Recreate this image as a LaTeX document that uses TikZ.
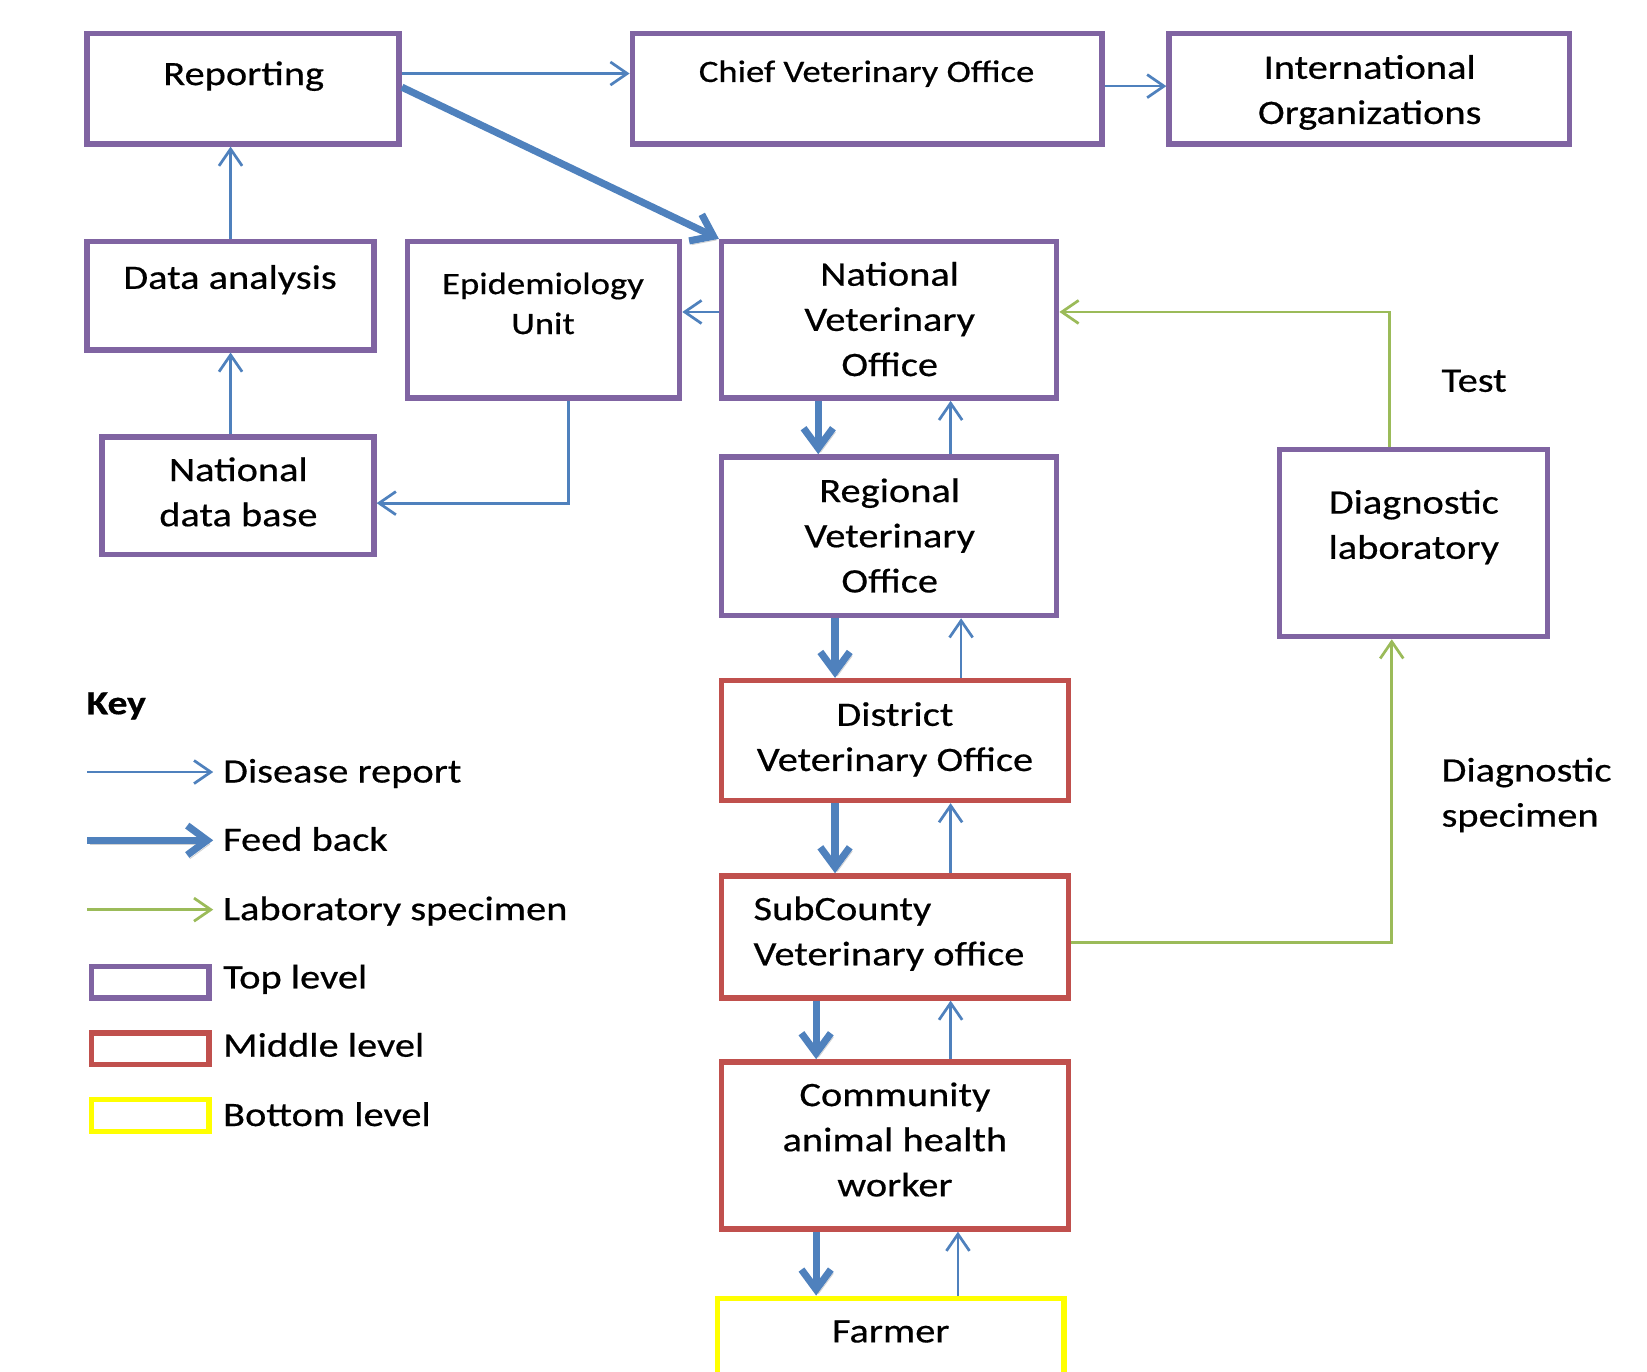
\documentclass[tikz,border=0pt]{standalone}
\usepackage{fontspec}
\setmainfont{Carlito}[FakeStretch=1.18, FakeBold=0.5]
\usetikzlibrary{arrows.meta,calc}
\definecolor{vpurple}{HTML}{8064A2}
\definecolor{vred}{HTML}{C0504D}
\definecolor{vyellow}{HTML}{FFFF00}
\definecolor{vblue}{HTML}{4F81BD}
\definecolor{vgreen}{HTML}{9BBB59}
\tikzset{
  box/.style={draw, line width=2.6pt, inner sep=0pt},
  pbox/.style={box, draw=vpurple},
  rbox/.style={box, draw=vred},
  ybox/.style={box, draw=vyellow},
  txt/.style={font=\fontsize{16.3}{21.5}\selectfont, inner sep=0pt, align=center, anchor=base},
  stxt/.style={font=\fontsize{14.8}{19}\selectfont, inner sep=0pt, align=center, anchor=base},
  rep/.style={draw=vblue, line width=1.3pt, -{Straight Barb[length=8pt,width=11pt]}},
  lab/.style={draw=vgreen, line width=1.3pt, -{Straight Barb[length=8pt,width=11pt]}},
  fb/.style={draw=vblue, line width=3.4pt, -{Straight Barb[length=9.5pt,width=14pt]},
    preaction={draw=black, opacity=0.18, transform canvas={shift={(1.2pt,-1.8pt)}}}}
}
\begin{document}
\begin{tikzpicture}[x=0.5pt, y=-0.5pt]
\useasboundingbox (0,0) rectangle (1568,1306);
\clip (0,0) rectangle (1568,1306);

% boxes
\node[pbox, minimum width=148.5pt, minimum height=52.5pt] (rep) at (231.5,84.5) {};
\node[pbox, minimum width=223.5pt, minimum height=52.5pt] (cvo) at (825.5,84.5) {};
\node[pbox, minimum width=190.5pt, minimum height=52.5pt] (intl) at (1303.5,84.5) {};
\node[pbox, minimum width=136.5pt, minimum height=51.5pt] (da) at (219.5,281.5) {};
\node[pbox, minimum width=129.5pt, minimum height=74.5pt] (epi) at (517.5,304.5) {};
\node[pbox, minimum width=159.5pt, minimum height=74.5pt] (nvo) at (846.5,304.5) {};
\node[pbox, minimum width=129.5pt, minimum height=56pt] (ndb) at (226.5,472) {};
\node[pbox, minimum width=159.5pt, minimum height=75.5pt] (rvo) at (846.5,510.5) {};
\node[pbox, minimum width=127.5pt, minimum height=89pt] (dlab) at (1345.5,517) {};
\node[rbox, minimum width=165pt, minimum height=57pt] (dvo) at (852,705) {};
\node[rbox, minimum width=165pt, minimum height=58pt] (scvo) at (852,892) {};
\node[rbox, minimum width=165pt, minimum height=79.5pt] (cahw) at (852,1090.5) {};
\node[ybox, minimum width=165pt, minimum height=55pt] (farmer) at (848,1291) {};

% texts (anchor base = baseline of the last line)
\node[txt] (repT) at (232,81) {Reporting};
\node[stxt] (cvoT) at (825,78) {Chief Veterinary Office};
\node[txt] (intlT) at (1304,118) {International\\Organizations};
\node[txt] (daT) at (219,275) {Data analysis};
\node[stxt] (epiT) at (517,318) {Epidemiology\\Unit};
\node[txt] (nvoT) at (847,358) {National\\Veterinary\\Office};
\node[txt] (ndbT) at (227,501) {National\\data base};
\node[txt] (rvoT) at (847,564) {Regional\\Veterinary\\Office};
\node[txt] (dlabT) at (1346,532) {Diagnostic\\laboratory};
\node[txt] (dvoT) at (852,734) {District\\Veterinary Office};
\node[txt, align=left, anchor=base west] (scvoT) at (717,919) {SubCounty\\Veterinary office};
\node[txt] (cahwT) at (852,1139) {Community\\animal health\\worker};
\node[txt] (farmerT) at (848,1278) {Farmer};
\node[txt, anchor=base west] (testT) at (1372,373) {Test};
\node[txt, align=left, anchor=base west] (dspT) at (1372,787) {Diagnostic\\specimen};

% connectors
\draw[rep] ([yshift=7.25pt]rep.east) -- ([yshift=7.25pt]rep.east -| cvo.west);
\draw[rep] ([yshift=1.25pt]cvo.east) -- ([yshift=1.25pt]cvo.east -| intl.west);
\draw[fb] ([yshift=0.75pt]rep.east) -- (nvo.north west);
\draw[rep] (da.north) -- (da.north |- rep.south);
\draw[rep] (da.south |- ndb.north) -- (da.south);
\draw[rep] ([xshift=11.75pt]epi.south) |- ([yshift=-3.5pt]ndb.east);
\draw[rep] ([yshift=3.75pt]nvo.west) -- ([yshift=3.75pt]nvo.west -| epi.east);
\draw[lab] ([xshift=-11.25pt]dlab.north) |- ([yshift=3.75pt]nvo.east);
\draw[lab] ([yshift=-2.5pt]scvo.east) -| ([xshift=-10.25pt]dlab.south);

\draw[fb] ([xshift=-33.75pt]nvo.south) -- ([xshift=-33.75pt]nvo.south |- rvo.north);
\draw[rep] ([xshift=29.25pt]rvo.north) -- ([xshift=29.25pt]rvo.north |- nvo.south);
\draw[fb] ([xshift=-25.75pt]rvo.south) -- ([xshift=-25.75pt]rvo.south |- dvo.north);
\draw[rep] ([xshift=31.5pt]dvo.north) -- ([xshift=31.5pt]dvo.north |- rvo.south);
\draw[fb] ([xshift=-28.5pt]dvo.south) -- ([xshift=-28.5pt]dvo.south |- scvo.north);
\draw[rep] ([xshift=26.5pt]scvo.north) -- ([xshift=26.5pt]scvo.north |- dvo.south);
\draw[fb] ([xshift=-37.5pt]scvo.south) -- ([xshift=-37.5pt]scvo.south |- cahw.north);
\draw[rep] ([xshift=26.5pt]cahw.north) -- ([xshift=26.5pt]cahw.north |- scvo.south);
\draw[fb] ([xshift=-37.5pt]cahw.south) -- ([xshift=-37.5pt]cahw.south |- farmer.north);
\draw[rep] ([xshift=30pt]cahw.south |- farmer.north) -- ([xshift=30pt]cahw.south);

% key
\node[txt, anchor=base west, font=\fontsize{16}{20}\selectfont\bfseries] (keyT) at (82,680) {Key};
\coordinate (k1a) at (83,735); \coordinate (k1b) at (203,735);
\draw[rep] (k1a) -- (k1b);
\node[txt, anchor=base west] (k1T) at (212,745) {Disease report};
\coordinate (k2a) at (83,800); \coordinate (k2b) at (203,800);
\draw[fb] (k2a) -- (k2b);
\node[txt, anchor=base west] (k2T) at (212,810) {Feed back};
\coordinate (k3a) at (83,866); \coordinate (k3b) at (203,866);
\draw[lab] (k3a) -- (k3b);
\node[txt, anchor=base west] (k3T) at (212,876) {Laboratory specimen};
\node[pbox, minimum width=56pt, minimum height=15pt] (k4) at (143,935) {};
\node[txt, anchor=base west] (k4T) at (212,941) {Top level};
\node[rbox, minimum width=56pt, minimum height=15pt] (k5) at (143,998.5) {};
\node[txt, anchor=base west] (k5T) at (212,1006) {Middle level};
\node[ybox, minimum width=56pt, minimum height=15pt] (k6) at (143,1062) {};
\node[txt, anchor=base west] (k6T) at (212,1072) {Bottom level};
\end{tikzpicture}
\end{document}
